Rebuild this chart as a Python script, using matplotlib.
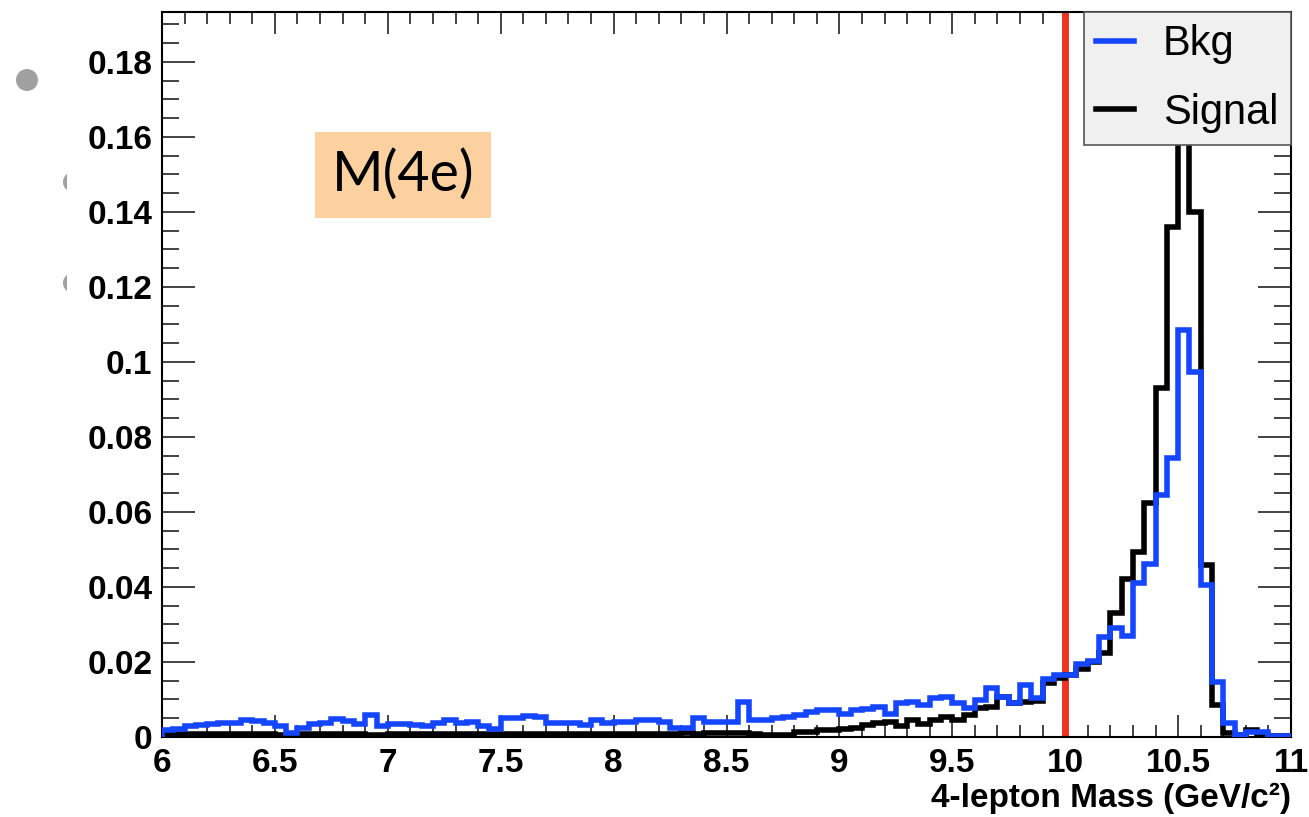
import numpy as np
import matplotlib
matplotlib.use("Agg")
import matplotlib.pyplot as plt
from matplotlib.lines import Line2D
from matplotlib.ticker import MultipleLocator, FuncFormatter
from matplotlib.patches import Circle, Rectangle

# Histogram binning: 100 bins from 6 to 11 GeV/c^2
edges = np.linspace(6.0, 11.0, 101)

# Background (blue)
bkg = [
    0.0019, 0.0022, 0.0030, 0.0033, 0.0035, 0.0037, 0.0037, 0.0046, 0.0042, 0.0037,
    0.0030, 0.0010, 0.0024, 0.0034, 0.0037, 0.0049, 0.0042, 0.0035, 0.0059, 0.0028,
    0.0034, 0.0034, 0.0031, 0.0030, 0.0038, 0.0046, 0.0037, 0.0040, 0.0030, 0.0022,
    0.0050, 0.0050, 0.0055, 0.0052, 0.0036, 0.0036, 0.0036, 0.0033, 0.0046, 0.0036,
    0.0041, 0.0041, 0.0046, 0.0046, 0.0041, 0.0024, 0.0024, 0.0050, 0.0041, 0.0041,
    0.0041, 0.0094, 0.0046, 0.0046, 0.0050, 0.0054, 0.0059, 0.0067, 0.0072, 0.0072,
    0.0060, 0.0072, 0.0074, 0.0081, 0.0060, 0.0090, 0.0094, 0.0085, 0.0103, 0.0107,
    0.0090, 0.0076, 0.0099, 0.0130, 0.0107, 0.0090, 0.0139, 0.0104, 0.0155, 0.0165,
    0.0165, 0.0195, 0.0202, 0.0267, 0.0290, 0.0270, 0.0410, 0.0460, 0.0645, 0.0744,
    0.1085, 0.0973, 0.0405, 0.0147, 0.0037, 0.0005, 0.0013, 0.0013, 0.0003, 0.0003,
]

# Signal (black)
signal = [
    0.0008, 0.0008, 0.0008, 0.0007, 0.0008, 0.0008, 0.0007, 0.0008, 0.0008, 0.0007,
    0.0006, 0.0006, 0.0007, 0.0008, 0.0007, 0.0007, 0.0008, 0.0007, 0.0006, 0.0006,
    0.0007, 0.0008, 0.0007, 0.0007, 0.0008, 0.0008, 0.0007, 0.0007, 0.0008, 0.0007,
    0.0007, 0.0008, 0.0008, 0.0007, 0.0008, 0.0008, 0.0008, 0.0007, 0.0008, 0.0008,
    0.0009, 0.0008, 0.0008, 0.0009, 0.0009, 0.0009, 0.0010, 0.0009, 0.0010, 0.0010,
    0.0010, 0.0010, 0.0008, 0.0005, 0.0006, 0.0006, 0.0014, 0.0014, 0.0018, 0.0018,
    0.0020, 0.0023, 0.0032, 0.0036, 0.0040, 0.0030, 0.0045, 0.0034, 0.0045, 0.0054,
    0.0045, 0.0058, 0.0076, 0.0081, 0.0107, 0.0090, 0.0092, 0.0095, 0.0143, 0.0157,
    0.0165, 0.0180, 0.0200, 0.0224, 0.0330, 0.0420, 0.0493, 0.0624, 0.0930, 0.1360,
    0.1840, 0.1400, 0.0459, 0.0085, 0.0010, 0.0005, 0.0018, 0.0005, 0.0002, 0.0002,
]

cut_value = 10.0
x_range = (6, 11)
y_range = (0, 0.1933)

plt.rcParams['font.family'] = ['Liberation Sans', 'DejaVu Sans']

W, H = 1309, 817
fig = plt.figure(figsize=(W / 100, H / 100), dpi=100)

# slide decorations (bullets) behind everything, in pixel coords
bg = fig.add_axes([0, 0, 1, 1], zorder=0)
bg.set_xlim(0, W)
bg.set_ylim(H, 0)
bg.axis('off')
bg.add_patch(Circle((27, 80), 11, color='#a0a0a0', lw=0))
for yc in (182, 283):
    c = Circle((73, yc), 10, color='#a0a0a0', lw=0)
    bg.add_patch(c)
    clip = Rectangle((0, 0), 67, H, transform=bg.transData, visible=False)
    bg.add_patch(clip)
    c.set_clip_path(clip)

ax = fig.add_axes([162 / W, 1 - 737 / H, (1291 - 162) / W, (737 - 12) / H], zorder=1)
ax.patch.set_alpha(0)

ax.stairs(signal, edges, color='black', lw=4, zorder=3)
ax.stairs(bkg, edges, color='#1446ff', lw=4, zorder=4)
ax.axvline(cut_value, color='#ee3322', lw=5, zorder=2)

ax.set_xlim(*x_range)
ax.set_ylim(*y_range)

ax.xaxis.set_major_locator(MultipleLocator(0.5))
ax.xaxis.set_minor_locator(MultipleLocator(0.1))
ax.yaxis.set_major_locator(MultipleLocator(0.02))
ax.yaxis.set_minor_locator(MultipleLocator(0.005))
fmt = FuncFormatter(lambda v, p: '%g' % round(v, 4))
ax.xaxis.set_major_formatter(fmt)
ax.yaxis.set_major_formatter(fmt)

ax.tick_params(direction='in', top=True, right=True, which='both', width=1.2, color='#222222')
ax.tick_params(axis='x', which='major', length=16, pad=8, labelsize=24)
ax.tick_params(axis='x', which='minor', length=8.5)
ax.tick_params(axis='y', which='major', length=24, pad=7, labelsize=24)
ax.tick_params(axis='y', which='minor', length=12)
for lab in ax.get_xticklabels() + ax.get_yticklabels():
    lab.set_fontweight('bold')
for s in ax.spines.values():
    s.set_linewidth(1.5)

ax.set_xlabel('4-lepton Mass (GeV/c²)', fontsize=24, fontweight='bold')
ax.xaxis.set_label_coords(1.0, -0.106)
ax.xaxis.label.set_horizontalalignment('right')
ax.xaxis.label.set_verticalalignment('bottom')

handles = [Line2D([], [], color='#1446ff', lw=4), Line2D([], [], color='black', lw=4)]
leg = ax.legend(handles, ['Bkg', 'Signal'], loc='upper right', bbox_to_anchor=(1, 1),
                borderaxespad=0, fontsize=30, handlelength=0.9, handletextpad=0.7,
                labelspacing=0.68, borderpad=0.3, fancybox=False, framealpha=1,
                facecolor='#f0f0f0', edgecolor='#555555')
leg.get_frame().set_linewidth(1.2)
leg.set_zorder(10)

ax.text((403 - 162) / (1291 - 162), (737 - 175) / (737 - 12), 'M(4e)', transform=ax.transAxes,
        fontsize=40, family='Lato', ha='center', va='center', zorder=6,
        bbox=dict(boxstyle='square,pad=0.3', fc='#fcd09f', ec='none'))

fig.savefig('out.png', dpi=100)
